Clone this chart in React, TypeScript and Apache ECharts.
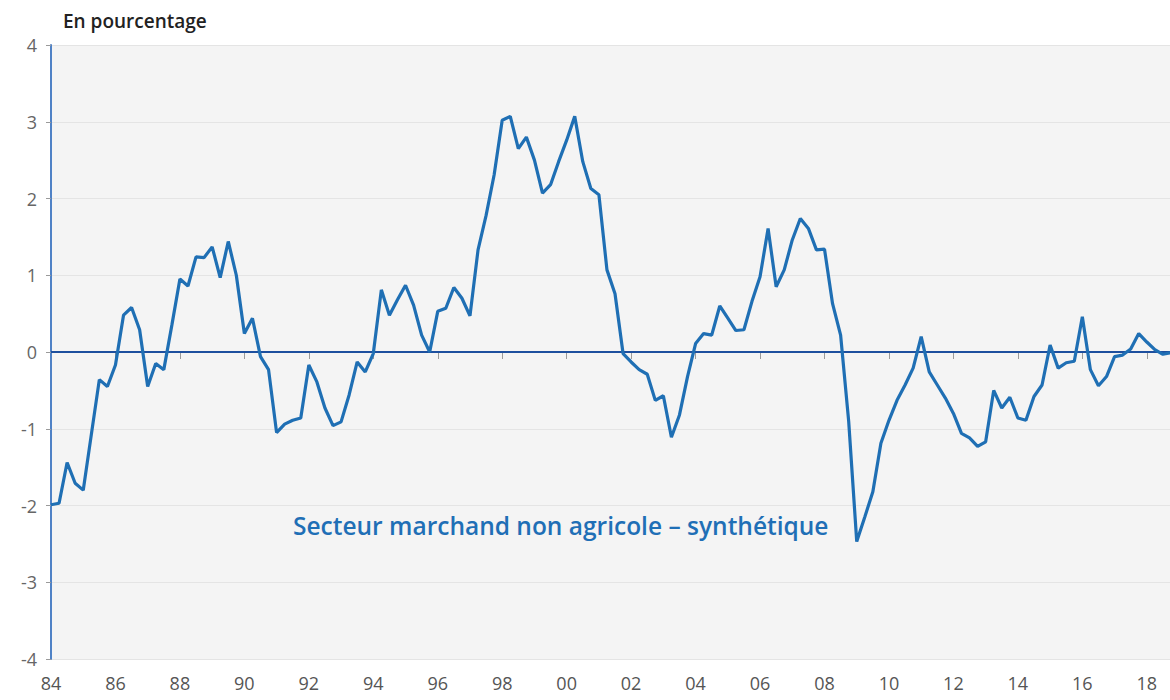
import React, { useEffect, useRef } from "react";
import * as echarts from "echarts";

// Quarterly series, first quarter of 1984 to last quarter of 2018
const firstYear = 1984;
const quartersPerYear = 4;
const values: number[] = [
  -1.99, -1.97, -1.44, -1.71, // 1984
  -1.80, -1.08, -0.36, -0.45, // 1985
  -0.17, 0.48, 0.58, 0.29, // 1986
  -0.45, -0.15, -0.23, 0.35, // 1987
  0.95, 0.86, 1.24, 1.23, // 1988
  1.37, 0.97, 1.44, 1.00, // 1989
  0.24, 0.44, -0.06, -0.23, // 1990
  -1.05, -0.94, -0.89, -0.86, // 1991
  -0.17, -0.39, -0.73, -0.96, // 1992
  -0.91, -0.56, -0.13, -0.26, // 1993
  -0.02, 0.81, 0.48, 0.68, // 1994
  0.87, 0.61, 0.22, 0.00, // 1995
  0.53, 0.57, 0.84, 0.70, // 1996
  0.47, 1.33, 1.78, 2.31, // 1997
  3.02, 3.07, 2.65, 2.80, // 1998
  2.50, 2.07, 2.18, 2.48, // 1999
  2.76, 3.07, 2.48, 2.13, // 2000
  2.05, 1.07, 0.76, -0.02, // 2001
  -0.13, -0.23, -0.29, -0.63, // 2002
  -0.57, -1.11, -0.82, -0.32, // 2003
  0.11, 0.24, 0.22, 0.60, // 2004
  0.44, 0.28, 0.29, 0.66, // 2005
  0.98, 1.61, 0.85, 1.07, // 2006
  1.46, 1.74, 1.61, 1.33, // 2007
  1.34, 0.63, 0.22, -0.90, // 2008
  -2.47, -2.15, -1.82, -1.19, // 2009
  -0.89, -0.63, -0.43, -0.21, // 2010
  0.20, -0.26, -0.43, -0.60, // 2011
  -0.80, -1.06, -1.12, -1.23, // 2012
  -1.17, -0.50, -0.73, -0.59, // 2013
  -0.86, -0.89, -0.58, -0.43, // 2014
  0.09, -0.21, -0.14, -0.12, // 2015
  0.46, -0.23, -0.44, -0.32, // 2016
  -0.06, -0.04, 0.04, 0.24, // 2017
  0.13, 0.03, -0.03, -0.01, // 2018
];

const xLabelYears = [1984, 1986, 1988, 1990, 1992, 1994, 1996, 1998, 2000, 2002, 2004, 2006, 2008, 2010, 2012, 2014, 2016, 2018];
const xTickYears = [1986, 1988, 1990, 1992, 1994, 1996, 1998, 2000, 2002, 2004, 2006, 2008, 2010, 2012, 2014, 2016, 2018];
const yMin = -4;
const yMax = 4;
const xMin = 1984;
const xMax = 2018.72;

const titleText = "En pourcentage";
const seriesLabel = "Secteur marchand non agricole – synthétique";

const FONT = "'Open Sans', 'Noto Sans', sans-serif";

export default function App() {
  const ref = useRef<HTMLDivElement>(null);
  useEffect(() => {
    if (!ref.current) return;
    const chart = echarts.init(ref.current, undefined, { renderer: "svg" });
    const data = values.map((v, i) => [firstYear + i / quartersPerYear, v]);
    chart.setOption({
      animation: false,
      backgroundColor: "#ffffff",
      grid: {
        left: 51,
        right: 0,
        top: 45,
        bottom: 41,
        show: true,
        backgroundColor: "#f4f4f4",
        borderWidth: 0,
      },
      xAxis: {
        type: "value",
        min: xMin,
        max: xMax,
        axisLine: { show: false },
        splitLine: { show: false },
        axisTick: {
          show: true,
          customValues: xTickYears,
          length: 7,
          lineStyle: { color: "#9a9a9a", width: 1 },
        },
        axisLabel: {
          customValues: xLabelYears,
          formatter: (v: number) => String(Math.round(v) % 100).padStart(2, "0"),
          color: "#555555",
          fontSize: 18,
          fontFamily: FONT,
          margin: 15,
        },
      },
      yAxis: {
        type: "value",
        min: yMin,
        max: yMax,
        interval: 1,
        axisLine: { show: true, lineStyle: { color: "#4f82c6", width: 2 } },
        axisTick: { show: true, length: 5, lineStyle: { color: "#9a9a9a" } },
        axisLabel: { color: "#666666", fontSize: 18, fontFamily: FONT, margin: 14 },
        splitLine: { show: true, lineStyle: { color: "#e4e4e4", width: 1 } },
      },
      graphic: [
        {
          type: "text",
          left: 63,
          top: 11,
          style: { text: titleText, fontSize: 19, fontWeight: 600, fill: "#222222", fontFamily: FONT },
        },
        {
          type: "text",
          left: 293,
          top: 513,
          style: { text: seriesLabel, fontSize: 24.5, fontWeight: 600, fill: "#1f6fb6", fontFamily: FONT },
        },
      ],
      series: [
        {
          type: "line",
          data,
          showSymbol: false,
          symbol: "none",
          lineStyle: { color: "#1f6fb4", width: 3.2 },
          z: 3,
          markLine: {
            silent: true,
            symbol: "none",
            label: { show: false },
            lineStyle: { color: "#1d4f9e", width: 2, type: "solid" },
            data: [{ yAxis: 0 }],
            z: 2,
          },
        },
      ],
    });
    return () => chart.dispose();
  }, []);
  return (
    <div
      ref={ref}
      style={{ position: "fixed", left: 0, top: 0, width: 1170, height: 700 }}
    />
  );
}
